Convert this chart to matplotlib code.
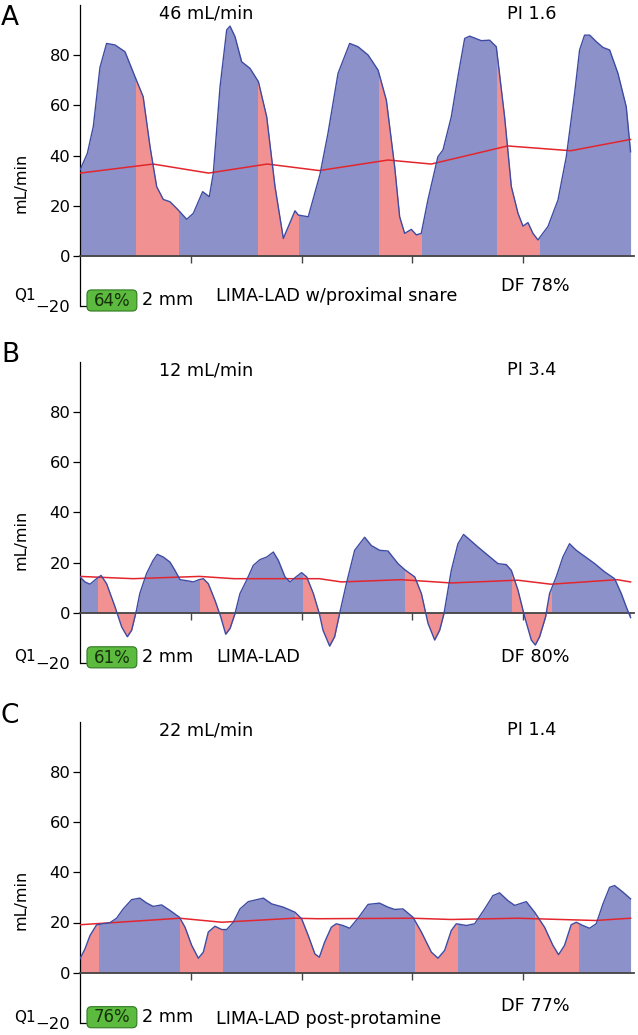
import numpy as np
import matplotlib.pyplot as plt
from matplotlib.patches import Rectangle, FancyBboxPatch

# ---- panel A : LIMA-LAD w/proximal snare ----
tA = [0, 0.066, 0.12, 0.18, 0.24, 0.316, 0.406, 0.496, 0.57, 0.632, 0.692, 0.752, 0.812,
      0.887, 0.963, 1.023, 1.107, 1.167, 1.203, 1.264, 1.324, 1.354, 1.399, 1.459, 1.534,
      1.61, 1.685, 1.76, 1.835, 1.88, 1.94, 1.97, 2.06, 2.166, 2.238, 2.329, 2.434, 2.509,
      2.6, 2.69, 2.765, 2.84, 2.885, 2.93, 2.99, 3.036, 3.08, 3.14, 3.23, 3.276, 3.351,
      3.411, 3.472, 3.517, 3.622, 3.697, 3.757, 3.832, 3.893, 3.953, 3.998, 4.043, 4.088,
      4.133, 4.223, 4.314, 4.389, 4.464, 4.509, 4.554, 4.6, 4.66, 4.72, 4.78, 4.855, 4.93,
      4.969]
vA = [34.2, 40.8, 51.5, 75, 84.6, 84, 81.3, 71.4, 63.4, 43.5, 27.6, 22.5, 21.6,
      18.3, 14.6, 17, 25.6, 23.6, 32.9, 67.4, 90, 91.5, 87.3, 77.3, 74.7,
      69.4, 55.4, 27.6, 7, 11.7, 18, 16.3, 15.6, 32.5, 48.8, 72.7, 84.6, 83.3,
      80, 74, 62, 35.5, 15.6, 9, 10.6, 8.4, 9, 22.3, 39.5, 42.2, 55.4,
      71.4, 86.6, 87.5, 85.7, 85.9, 83.3, 55.4, 27.6, 17, 11.9, 13.3, 9,
      6.4, 11.7, 22.3, 39.5, 64.7, 82, 87.9, 87.9, 85.3, 83, 82, 72.7, 59.4,
      41.5]
mtA = [0, 0.66, 1.16, 1.69, 2.16, 2.78, 3.17, 3.86, 4.43, 4.969]
mvA = [33, 36.6, 33, 36.6, 34, 38.2, 36.6, 43.8, 41.9, 46.4]
sysA = [(0.505, 0.887), (1.603, 1.97), (2.696, 3.08), (3.763, 4.139)]

# ---- panel B : LIMA-LAD ----
tB = [0, 0.045, 0.09, 0.15, 0.19, 0.24, 0.316, 0.376, 0.427, 0.466, 0.51, 0.54, 0.6,
      0.66, 0.698, 0.752, 0.812, 0.857, 0.903, 0.978, 1.023, 1.074, 1.113, 1.158, 1.218,
      1.27, 1.315, 1.354, 1.399, 1.444, 1.504, 1.564, 1.625, 1.685, 1.745, 1.79, 1.85,
      1.895, 1.955, 2.0, 2.046, 2.106, 2.16, 2.193, 2.253, 2.298, 2.343, 2.404, 2.479,
      2.569, 2.629, 2.704, 2.78, 2.87, 2.93, 3.021, 3.081, 3.141, 3.201, 3.246, 3.285,
      3.351, 3.411, 3.462, 3.517, 3.592, 3.682, 3.772, 3.847, 3.893, 3.953, 4.013, 4.073,
      4.109, 4.148, 4.202, 4.238, 4.298, 4.358, 4.418, 4.479, 4.554, 4.645, 4.735, 4.825,
      4.885, 4.93, 4.969]
vB = [14.3, 12.3, 11.4, 13.6, 14.9, 11.6, 2.4, -5.6, -9.5, -6.9, 1.1, 7.7, 15.6,
      20.9, 23.3, 22.2, 20.2, 16.9, 13.2, 12.7, 12.3, 13.2, 13.6, 11.6, 5,
      -1.6, -8.5, -6.2, -0.3, 7.7, 13, 18.9, 21.2, 22.2, 24.2, 20.9, 14.3,
      12.3, 14.5, 16, 14.3, 7.7, -0.3, -6.9, -13.2, -9.5, -0.3, 11.6, 24.9,
      30.1, 26.8, 24.9, 24.6, 19.6, 17.2, 14.3, 7.7, -4.2, -10.8, -6.9, -0.3,
      16.9, 27.5, 31.2, 29.1, 26.2, 22.9, 19.6, 19.2, 16.9, 9, -1.6, -10.8,
      -12.8, -9.5, -1.6, 7.7, 14.3, 22.2, 27.5, 24.9, 22.5, 19.6, 16.3, 13.6,
      7.7, 2.4, -1.9]
mtB = [0, 0.48, 1.08, 1.39, 2.16, 2.36, 2.9, 3.35, 3.95, 4.25, 4.85, 4.969]
mvB = [14.5, 13.6, 14.5, 13.6, 13.6, 12.3, 13.2, 11.9, 13, 11.4, 13.2, 12.3]
sysB = [(0.16, 0.5), (1.083, 1.4), (2.01, 2.34), (2.936, 3.28), (3.902, 4.253)]

# ---- panel C : LIMA-LAD post-protamine ----
tC = [0, 0.045, 0.09, 0.15, 0.21, 0.27, 0.33, 0.39, 0.466, 0.54, 0.6, 0.66, 0.737,
      0.812, 0.897, 0.948, 1.008, 1.068, 1.113, 1.158, 1.218, 1.279, 1.324, 1.384, 1.444,
      1.519, 1.655, 1.73, 1.835, 1.94, 2.0, 2.06, 2.12, 2.16, 2.208, 2.268, 2.313, 2.374,
      2.434, 2.509, 2.6, 2.704, 2.78, 2.84, 2.915, 3.005, 3.081, 3.171, 3.231, 3.291,
      3.351, 3.396, 3.487, 3.562, 3.652, 3.727, 3.787, 3.862, 3.923, 4.028, 4.103, 4.193,
      4.268, 4.319, 4.373, 4.433, 4.479, 4.539, 4.599, 4.659, 4.72, 4.78, 4.825, 4.9,
      4.969]
vC = [5.6, 9.5, 14.8, 19.1, 19.5, 19.9, 21.7, 25.4, 29.1, 29.7, 27.8, 26.4, 27,
      24.8, 22.1, 18.1, 10.9, 5.8, 8.2, 16.2, 18.5, 17.2, 17.2, 20.1, 25.4,
      28.3, 29.7, 27.4, 26.1, 24.1, 21.5, 14.8, 7.5, 6.2, 12.2, 18.1, 19.5, 18.8,
      17.7, 21.7, 27.2, 27.7, 26.1, 25.2, 25.4, 22.1, 16.2, 8.2, 5.8, 8.9,
      16.8, 19.5, 18.8, 19.5, 25.4, 30.7, 31.8, 28.7, 26.8, 28.3, 24.1, 18.1,
      10.9, 7.2, 10.9, 19.1, 20.1, 18.8, 17.7, 19.5, 27.4, 34, 34.7, 32.1,
      29.4]
mtC = [0, 0.9, 1.28, 1.93, 2.148, 3.0, 3.35, 3.95, 4.65, 4.969]
mvC = [19.1, 21.7, 20.1, 21.7, 21.5, 21.7, 21.2, 21.7, 20.8, 21.7]
sysC = [(0, 0.16), (0.903, 1.279), (1.94, 2.328), (3.026, 3.402), (4.103, 4.494)]

panels = [
    dict(letter="A", t=tA, v=vA, mt=mtA, mv=mvA, sys=sysA, flow="46 mL/min", pi="PI 1.6",
         q="64%", name="LIMA-LAD w/proximal snare", df="DF 78%", dfy=-11.8, qy=-15.8,
         box=[18, 306.25]),
    dict(letter="B", t=tB, v=vB, mt=mtB, mv=mvB, sys=sysB, flow="12 mL/min", pi="PI 3.4",
         q="61%", name="LIMA-LAD", df="DF 80%", dfy=-17.5, qy=-17.3,
         box=[355, 663.1]),
    dict(letter="C", t=tC, v=vC, mt=mtC, mv=mvC, sys=sysC, flow="22 mL/min", pi="PI 1.4",
         q="76%", name="LIMA-LAD post-protamine", df="DF 77%", dfy=-13.1, qy=-18.0,
         box=[716, 1023.0]),
]

blue = "#8d91c9"
pink = "#f29191"
edge = "#3d4ba3"
red = "#e3262d"
fs = 12.7

W, H = 638, 1035
fig = plt.figure(figsize=(W / 100, H / 100), dpi=100)

for p in panels:
    bottom_px = p["box"][1]
    ax = fig.add_axes([80 / W, 1 - bottom_px / H, 554 / W, 301.5 / H])
    t = np.array(p["t"])
    v = np.array(p["v"])

    # diastolic (blue) everywhere, systolic (pink) clipped to its intervals
    ax.fill_between(t, v, 0, color=blue, lw=0)
    for a, b in p["sys"]:
        f = ax.fill_between(t, v, 0, color=pink, lw=0)
        f.set_clip_path(Rectangle((a, -25), b - a, 130, transform=ax.transData))
    ax.plot(p["mt"], p["mv"], color=red, lw=1.1, zorder=3)
    ax.plot(t, v, color=edge, lw=1.0, zorder=4, solid_joinstyle="round")

    ax.set_xlim(0, 5)
    ax.set_ylim(-20, 100)
    for s in ["top", "right"]:
        ax.spines[s].set_visible(False)
    ax.spines["left"].set_bounds(-20, 100)
    ax.spines["left"].set_linewidth(0.9)
    ax.spines["bottom"].set_position(("data", 0))
    ax.spines["bottom"].set_color("#444444")
    ax.spines["bottom"].set_linewidth(1.3)
    ax.spines["bottom"].set_zorder(3.5)
    ax.set_xticks([1, 2, 3, 4])
    ax.tick_params(axis="x", length=5, width=1, color="#444444", labelbottom=False)
    ax.set_yticks([0, 20, 40, 60, 80])
    ax.set_yticks([-20], labels=["\u221220"], minor=True)
    ax.tick_params(axis="y", which="major", length=5, width=0.9, pad=2, labelsize=11.8)
    ax.tick_params(axis="y", which="minor", direction="in", length=5, width=0.9,
                   pad=7, labelsize=11.8)

    ax.text(-0.53, 29, "mL/min", rotation=90, ha="center", va="center", fontsize=11.5)
    ax.text(1.14, 96.5, p["flow"], ha="center", va="center", fontsize=fs)
    ax.text(4.075, 96.5, p["pi"], ha="center", va="center", fontsize=fs)
    ax.text(-0.5, p["qy"], "Q1", ha="center", va="center", fontsize=11)
    bb = FancyBboxPatch((0.063, -21.9), 0.45, 8.4,
                        boxstyle="round,pad=0,rounding_size=0.04",
                        mutation_aspect=44, fc="#5cba3e", ec="#2f7a22", lw=0.8,
                        clip_on=False, zorder=5)
    ax.add_patch(bb)
    ax.text(0.289, -17.8, p["q"], ha="center", va="center", fontsize=12,
            color="#16300c", zorder=6)
    ax.text(0.56, -17.6, "2 mm", ha="left", va="center", fontsize=fs)
    ax.text(1.227, p["qy"] - 0.3, p["name"], ha="left", va="center", fontsize=fs)
    ax.text(4.11, p["dfy"], p["df"], ha="center", va="center", fontsize=fs)

    fig.text(10 / W, 1 - p["box"][0] / H, p["letter"], ha="center", va="center",
             fontsize=19)

fig.savefig("out.png", dpi=100)
